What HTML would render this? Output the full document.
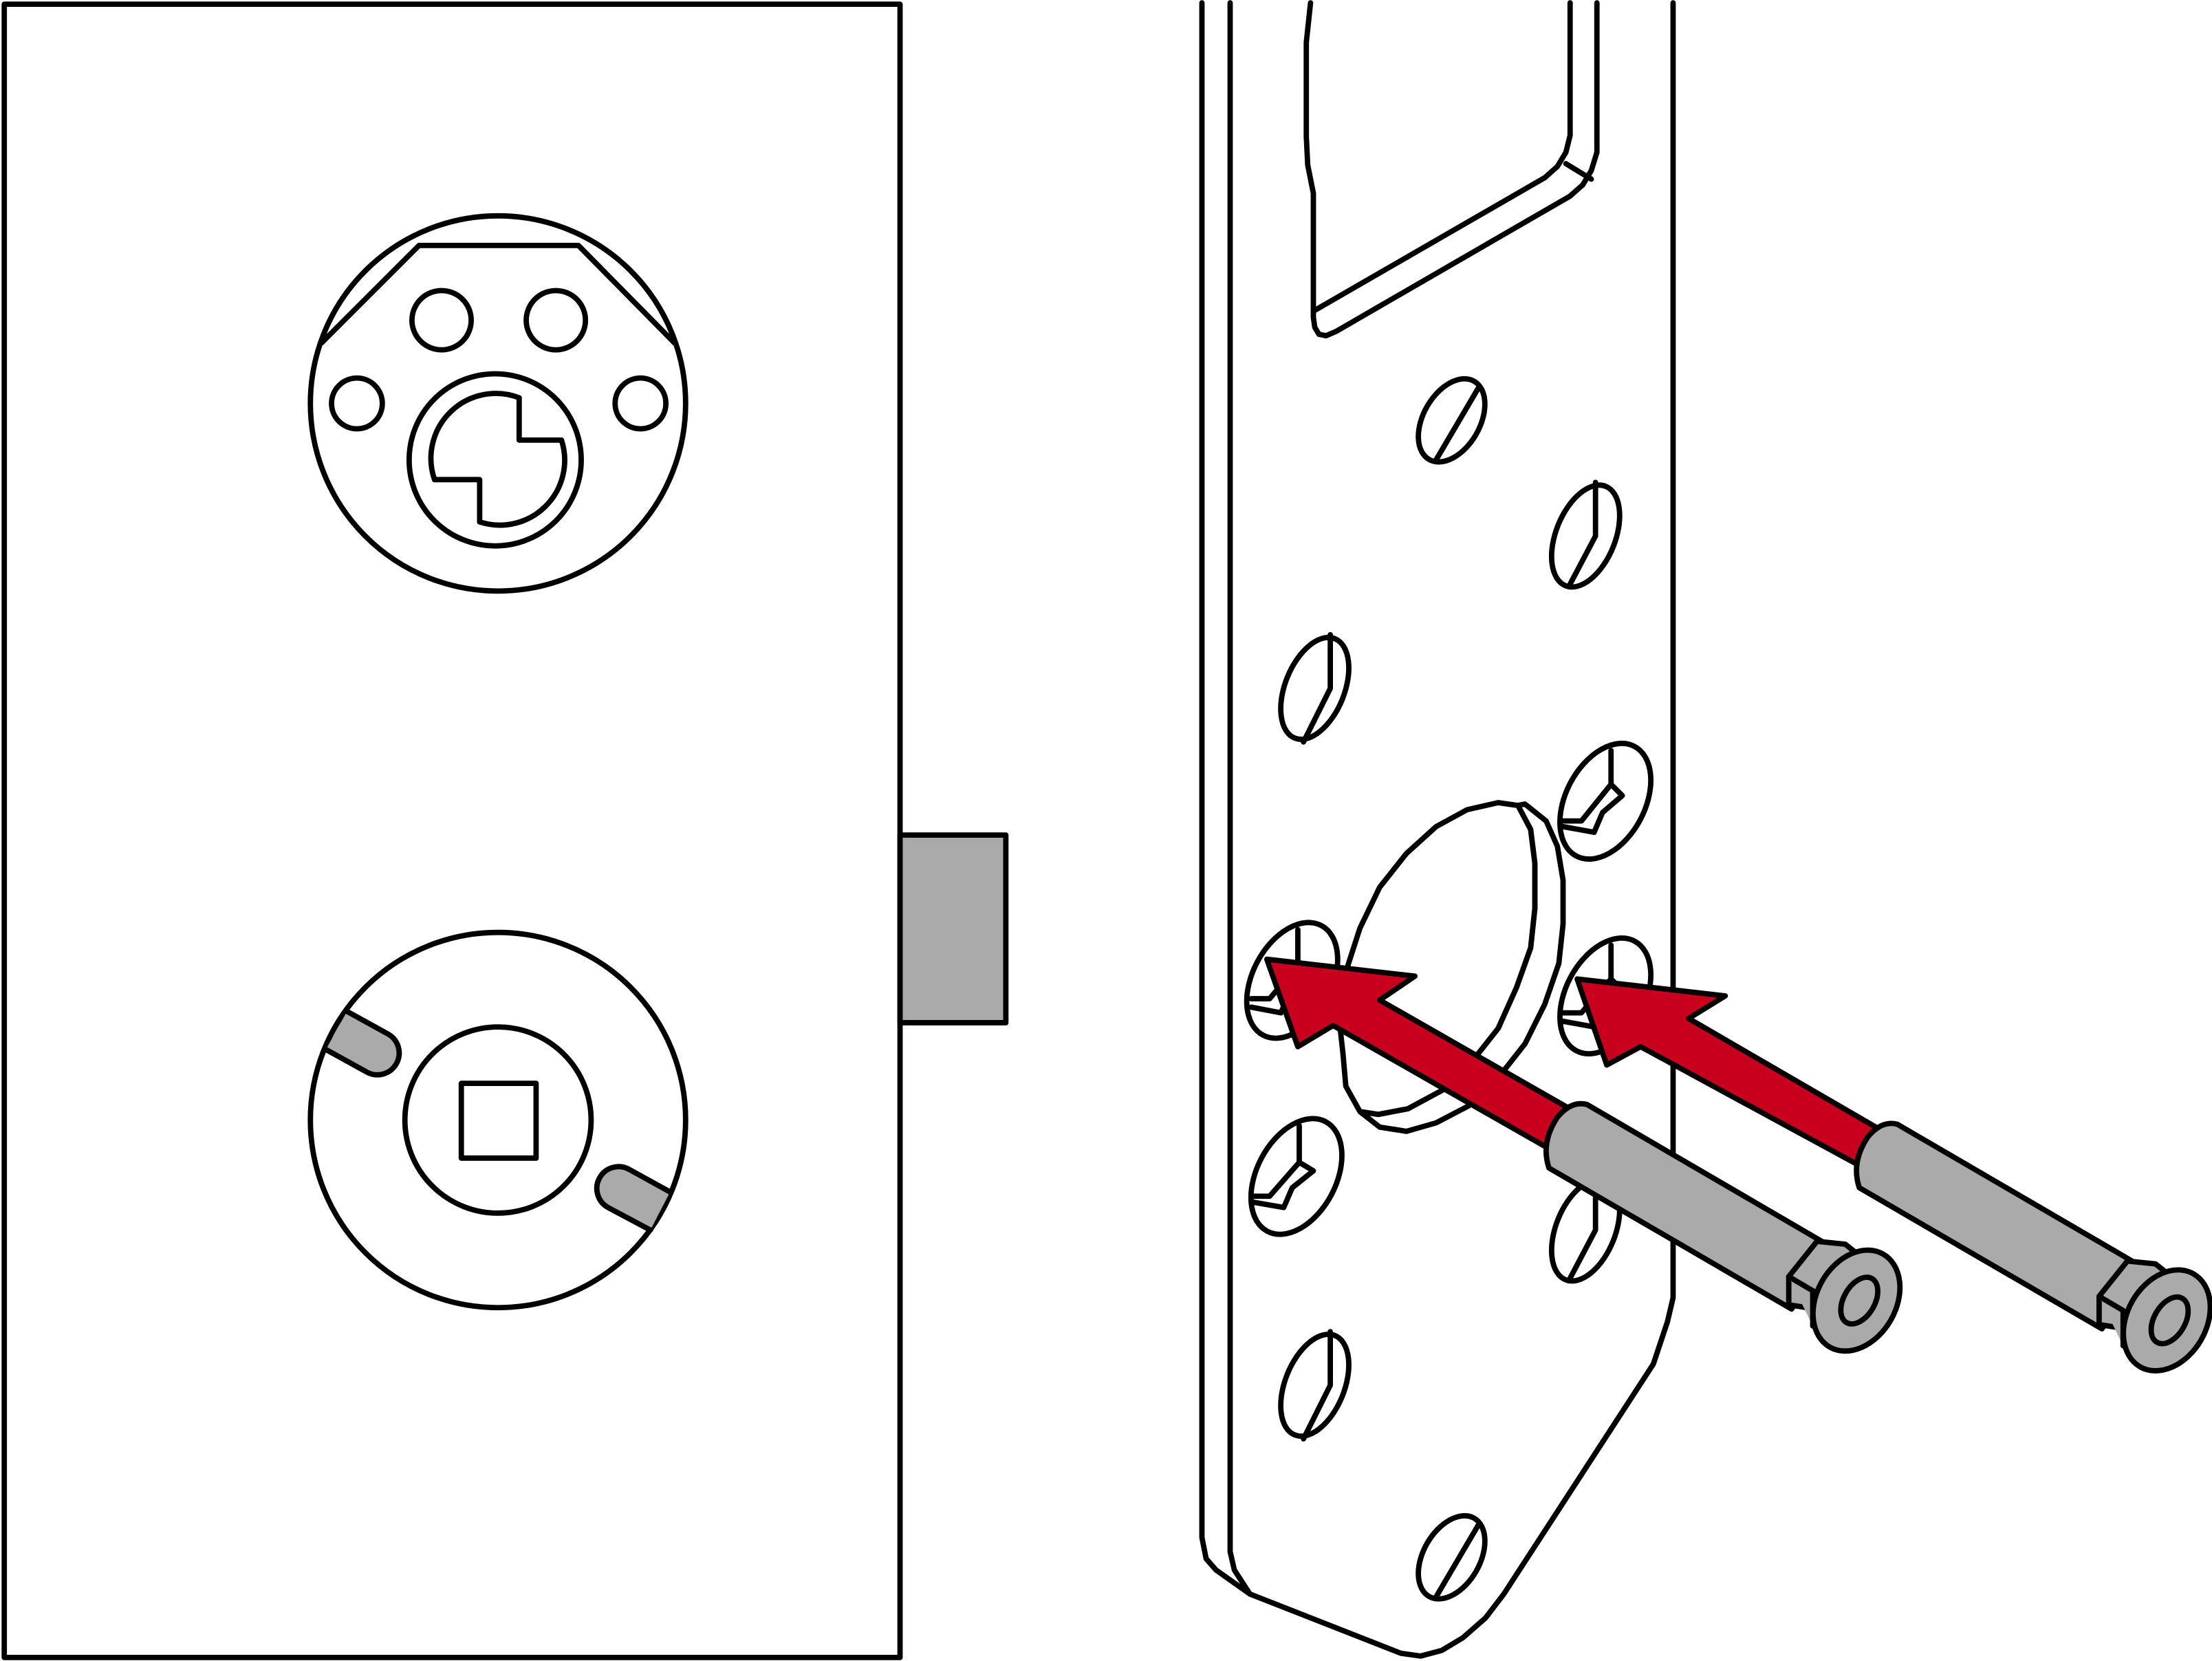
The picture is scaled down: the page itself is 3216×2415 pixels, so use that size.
<!DOCTYPE html>
<html><head><meta charset="utf-8"><style>html,body{margin:0;padding:0;background:#fff}svg{display:block}</style></head>
<body>
<svg width="3216" height="2415" viewBox="0 0 1568 1177.5" xmlns="http://www.w3.org/2000/svg">
<g fill="none" stroke="#000" stroke-width="3.8" stroke-linejoin="round" stroke-linecap="round">
<!-- lock body -->
<rect x="3" y="3" width="635" height="1172" fill="#fff"/>
<rect x="638" y="592" width="75" height="133" fill="#aaa"/>
<!-- top rosette -->
<circle cx="353" cy="286" r="133"/>
<path d="M228 243 L297 174 L410 174 L478 243"/>
<circle cx="313" cy="227" r="21"/><circle cx="394" cy="227" r="21"/>
<circle cx="253" cy="286" r="18"/><circle cx="454" cy="286" r="18"/>
<circle cx="351" cy="326" r="61"/>
<path d="M368 282 L368 312 L398 312 A46 46 0 0 1 340 370 L340 340 L308 340 A46 46 0 0 1 368 282 Z"/>
<!-- bottom rosette -->
<circle cx="353" cy="794" r="133"/>
<circle cx="353" cy="794" r="66"/>
<rect x="327" y="768" width="53" height="53"/>
<path d="M246 717 L275 733 A11 11 0 0 1 260 760 L231 744" fill="#aaa"/>
<path d="M475 845 L446 829 A11 11 0 0 0 431 856 L461 872" fill="#aaa"/>
<!-- bracket -->
<path d="M852 2 L852 1090 L855 1105 L862 1113 L886 1130 L993 1172 L1007 1174 L1022 1170 L1037 1161 L1053 1147 L1066 1130 L1172 967 L1182 937 L1186 920 L1186 2"/>
<path d="M872 2 L872 1100 L875 1113 L886 1130"/>
<path d="M929 2 L926 30 L926 97 L927 117 L931 137 L931 225 L932 232 L935 237 L940 238 L947 235 L1113 139 L1122 131 L1128 121 L1132 108 L1132 2"/>
<path d="M1113 2 L1113 96 L1110 108 L1104 118 L1095 126 L932 220"/>
<path d="M1110 116 L1128 127"/>
<!-- holes -->
<g>
<ellipse cx="1029" cy="298" rx="20" ry="32" transform="rotate(30 1029 298)"/><path d="M1048 275 L1018 326"/>
<ellipse cx="1124" cy="380" rx="21" ry="38" transform="rotate(22 1124 380)"/><path d="M1131 342 L1131 380 L1112 416"/>
<ellipse cx="932" cy="488" rx="21" ry="38" transform="rotate(22 932 488)"/><path d="M943 450 L943 488 L924 526"/>
<ellipse cx="1138" cy="568" rx="28" ry="44" transform="rotate(28 1138 568)"/><path d="M1142 532 L1142 556 L1121 582 L1108 582 M1142 556 L1150 564 L1136 576 L1130 590 L1108 586"/>
<ellipse cx="916" cy="695" rx="28" ry="44" transform="rotate(28 916 695)"/><path d="M920 659 L920 684 L900 708 L887 708 M920 684 L928 692 L914 704 L908 718 L887 714"/>
<ellipse cx="1138" cy="706" rx="28" ry="44" transform="rotate(28 1138 706)"/><path d="M1142 670 L1142 694 L1121 718 L1108 718 M1142 694 L1150 702 L1136 714 L1130 728 L1108 724"/>
<ellipse cx="919" cy="834" rx="28" ry="44" transform="rotate(28 919 834)"/><path d="M921 798 L921 824 L900 848 L887 848 M921 824 L931 830 L916 842 L910 856 L887 852"/>
<ellipse cx="1124" cy="872" rx="21" ry="38" transform="rotate(22 1124 872)"/><path d="M1131 834 L1131 872 L1112 908"/>
<ellipse cx="932" cy="982" rx="21" ry="38" transform="rotate(22 932 982)"/><path d="M943 944 L943 982 L924 1020"/>
<ellipse cx="1029" cy="1104" rx="20" ry="32" transform="rotate(30 1029 1104)"/><path d="M1048 1081 L1018 1132"/>
</g>
<!-- disc: rim then face -->
<polygon fill="#fff" points="1076,571 1081,570 1096,582 1104,600 1108,624 1108,655 1105,683 1095,712 1081,740 1066,759 1041,784 1018,796 997,802 978,799 964,788 977,790 998,786 1024,772 1047,748 1062,729 1075,700 1085,672 1088,644 1088,612 1085,588"/>
<polygon fill="#fff" points="1062,569 1040,574 1018,586 997,605 978,629 964,658 954,689 950,729 952,747 954,770 964,788 977,790 998,786 1024,772 1047,748 1062,729 1075,700 1085,672 1088,644 1088,612 1085,588 1076,571"/>
<!-- arrows -->
<polygon points="898,680 1003,692 978,709 1125,793 1108,820 945,727 920,742" fill="#c8001e"/>
<polygon points="1118,694 1223,706 1197,722 1340,805 1325,830 1163,742 1139,755" fill="#c8001e"/>
<!-- bolt 1 -->
<g fill="#aaa">
<path d="M1125 783 L1300 885 L1270 928 L1098 828 Q1092 810 1104 792 Q1114 780 1125 783 Z"/>
<path d="M1268 905 L1288 880 L1308 882 L1318 890 L1300 930 L1268 925 Z"/>
<path d="M1268 905 L1285 915 L1285 940"/>
<ellipse cx="1316" cy="922" rx="28" ry="38" transform="rotate(30 1316 922)"/>
<ellipse cx="1318" cy="922" rx="11" ry="18" transform="rotate(30 1318 922)"/>
</g>
<!-- bolt 2 -->
<g fill="#aaa">
<path d="M1345 797 L1520 899 L1490 942 L1318 842 Q1312 824 1324 806 Q1334 794 1345 797 Z"/>
<path d="M1488 919 L1508 894 L1528 896 L1538 904 L1520 944 L1488 939 Z"/>
<path d="M1488 919 L1505 929 L1505 954"/>
<ellipse cx="1536" cy="936" rx="28" ry="38" transform="rotate(30 1536 936)"/>
<ellipse cx="1538" cy="936" rx="11" ry="18" transform="rotate(30 1538 936)"/>
</g>
</g>
</svg>
</body></html>
